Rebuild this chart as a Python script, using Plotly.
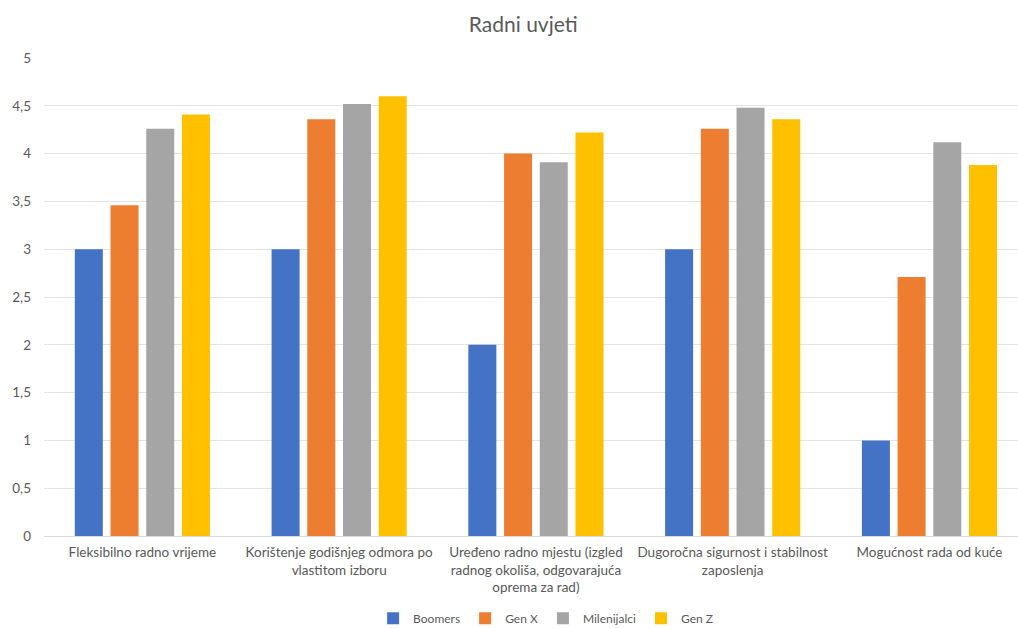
import plotly.graph_objects as go

categories = [
    "Fleksibilno radno vrijeme",
    "Korištenje godišnjeg odmora po<br>vlastitom izboru",
    "Uređeno radno mjestu (izgled<br>radnog okoliša, odgovarajuća<br>oprema za rad)",
    "Dugoročna sigurnost i stabilnost<br>zaposlenja",
    "Mogućnost rada od kuće",
]
boomers = [3, 3, 2, 3, 1]
gen_x = [3.46, 4.36, 4.0, 4.26, 2.71]
milenijalci = [4.26, 4.52, 3.91, 4.48, 4.12]
gen_z = [4.41, 4.60, 4.22, 4.36, 3.88]

series = [
    ("Boomers", boomers, "#4472C4"),
    ("Gen X", gen_x, "#ED7D31"),
    ("Milenijalci", milenijalci, "#A5A5A5"),
    ("Gen Z", gen_z, "#FFC000"),
]

tick_vals = [0, 0.5, 1, 1.5, 2, 2.5, 3, 3.5, 4, 4.5, 5]
tick_text = ["0", "0,5", "1", "1,5", "2", "2,5", "3", "3,5", "4", "4,5", "5"]

fig = go.Figure()
for name, vals, color in series:
    fig.add_trace(go.Bar(x=categories, y=vals, name=name, marker_color=color,
                         marker_line_width=0))

fig.update_layout(
    width=1018, height=628,
    paper_bgcolor="white", plot_bgcolor="white",
    font=dict(family="Lato, Open Sans, sans-serif", color="#595959", size=13),
    title=dict(text="Radni uvjeti", x=0.514, xanchor="center", y=0.96, yanchor="middle",
               font=dict(size=21, color="#595959")),
    margin=dict(l=44, r=0, t=58, b=92, autoexpand=False),
    barmode="group", bargap=0.274, bargroupgap=0.216,
    legend=dict(orientation="h", x=0.515, xanchor="center", y=-0.172, yanchor="middle",
                font=dict(size=12, color="#595959"), itemwidth=30, tracegroupgap=0),
    xaxis=dict(showline=True, linecolor="#d9d9d9", linewidth=1, ticks="",
               range=[-0.5, 4.45], automargin=False, ticklabelstandoff=4,
               tickfont=dict(size=13.5, color="#595959")),
    yaxis=dict(range=[0, 5], tickvals=tick_vals, ticktext=tick_text,
               showgrid=True, gridcolor="#e3e3e3", gridwidth=1, automargin=False,
               ticklabelstandoff=12,
               zeroline=False, ticks="", tickfont=dict(size=13.5, color="#595959")),
)

fig.write_html("out.html", config={"displayModeBar": False},
               post_script="document.body.style.margin='0';document.body.style.overflow='hidden';")
